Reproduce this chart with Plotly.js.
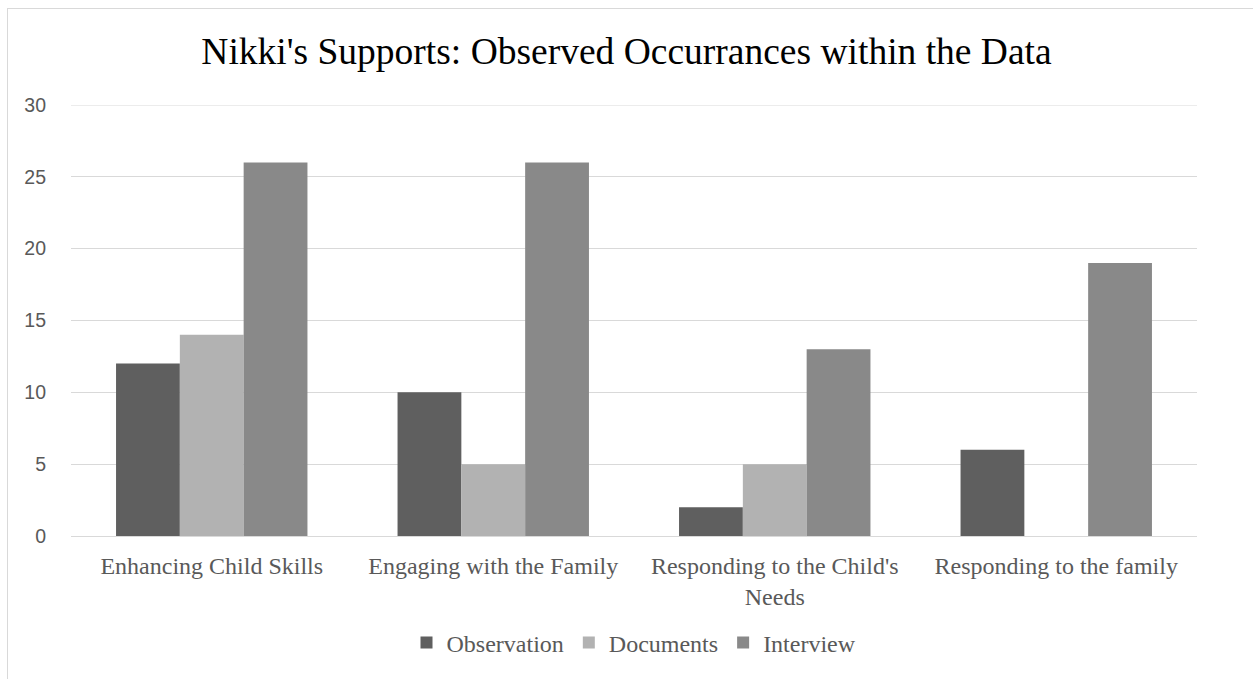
<!DOCTYPE html>
<html>
<head>
<meta charset="utf-8">
<script src="https://cdn.plot.ly/plotly-3.0.1.min.js"></script>
<style>
html,body{margin:0;padding:0;background:#fff;overflow:hidden;}
#frame{position:absolute;left:7px;top:8px;width:1300px;height:720px;border:1px solid #d9d9d9;box-sizing:border-box;}
#chart{position:absolute;left:0;top:0;width:1253px;height:679px;}
</style>
</head>
<body>
<div id="frame"></div>
<div id="chart"></div>
<script>
const categories = ["Enhancing Child Skills", "Engaging with the Family", "Responding to the Child's<br>Needs", "Responding to the family"];
const observation = [12, 10, 2, 6];
const documents = [14, 5, 5, 0];
const interview = [26, 26, 13, 19];
const seriesNames = ["Observation", "Documents", "Interview"];
const colors = ["#5f5f5f", "#b2b2b2", "#898989"];
const yMax = 30;

const data = [observation, documents, interview].map((vals, i) => ({
  type: "bar",
  name: seriesNames[i],
  x: categories,
  y: vals,
  marker: {color: colors[i], line: {width: 0}},
  hoverinfo: "y"
}));

const serif = "Liberation Serif, Times New Roman, serif";

const layout = {
  width: 1253, height: 679,
  paper_bgcolor: "rgba(0,0,0,0)",
  plot_bgcolor: "rgba(0,0,0,0)",
  margin: {l: 71, r: 56, t: 105, b: 143},
  title: {text: "Nikki's Supports: Observed Occurrances within the Data", font: {family: serif, size: 37.5, color: "#000"}, x: 0.5, xanchor: "center", y: 0.925, yanchor: "middle"},
  barmode: "group",
  bargap: 0.32,
  bargroupgap: 0,
  xaxis: {
    tickfont: {family: serif, size: 24, color: "#595959"},
    showline: true, linecolor: "#d9d9d9", linewidth: 1,
    ticks: "", showgrid: false, ticklabelstandoff: 8
  },
  yaxis: {
    range: [0, yMax], dtick: 5, tick0: 0,
    tickfont: {family: "Liberation Sans, Arial, sans-serif", size: 19.5, color: "#595959"},
    gridcolor: "#d9d9d9", gridwidth: 1,
    zeroline: false, showline: false, ticks: "", ticklabelstandoff: 24
  },
  shapes: [{type: "line", xref: "paper", yref: "y", x0: 0, x1: 1, y0: yMax, y1: yMax, line: {color: "#d9d9d9", width: 1}, layer: "below"}],
  legend: {
    orientation: "h", x: 0.5, xanchor: "center", y: -0.248, yanchor: "middle",
    font: {family: serif, size: 24, color: "#595959"},
    itemwidth: 30, traceorder: "normal"
  },
  showlegend: true
};

Plotly.newPlot("chart", data, layout, {displayModeBar: false, staticPlot: true});
</script>
</body>
</html>
